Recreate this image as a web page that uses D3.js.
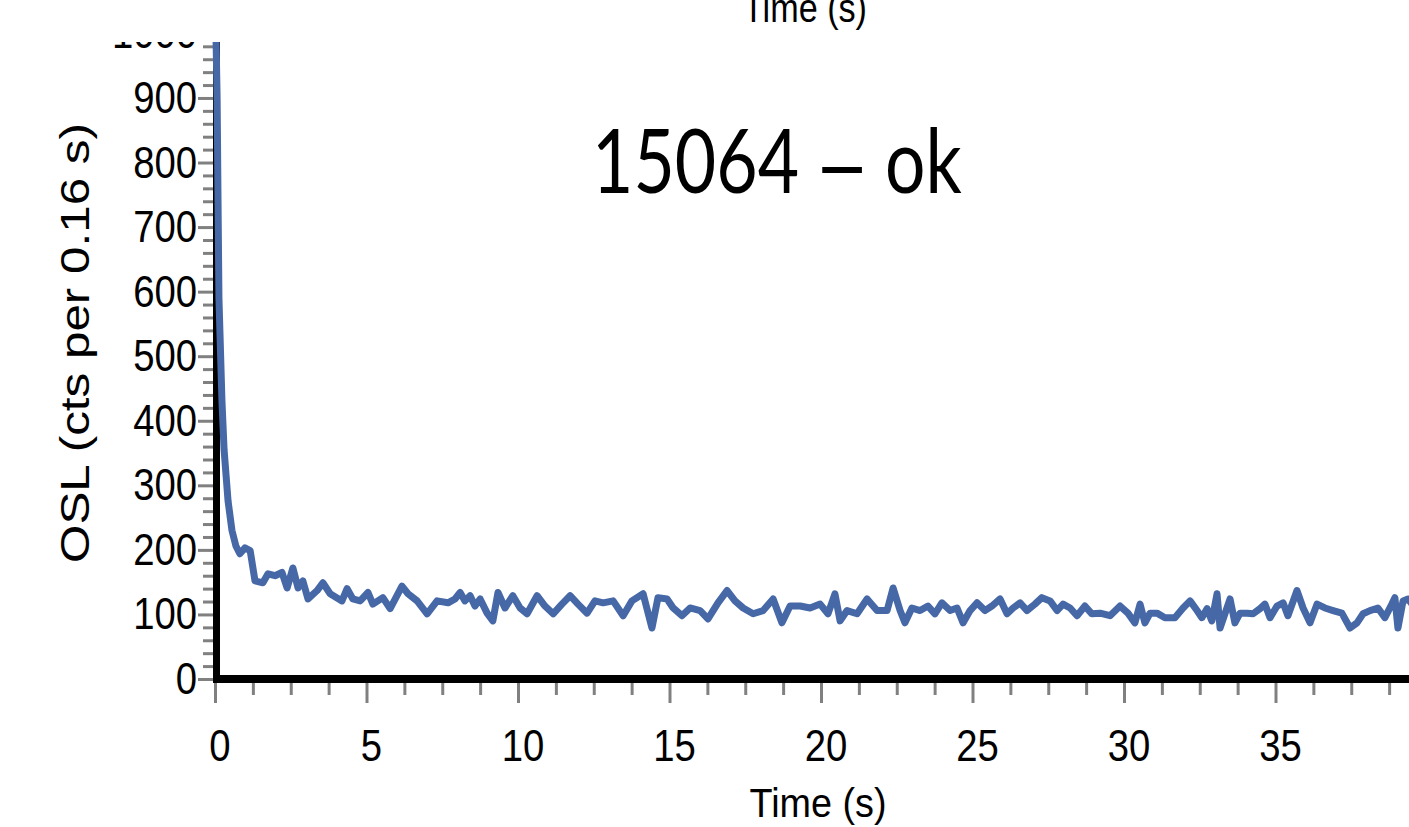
<!DOCTYPE html>
<html><head><meta charset="utf-8">
<script src="https://cdn.jsdelivr.net/npm/d3@7"></script>
<style>body{margin:0;background:#fff;overflow:hidden}svg{display:block}</style>
</head><body><svg id="c" width="1409" height="827"></svg>
<script>
// ---- data ----
const times = [0,0.07,0.10,0.13,0.23,0.30,0.43,0.56,0.69,0.82,0.99,1.16,1.32,1.58,1.75,1.98,2.21,2.38,2.57,2.74,2.90,3.07,3.37,3.56,3.80,4.19,4.36,4.55,4.79,5.05,5.21,5.54,5.78,6.17,6.37,6.67,7.00,7.33,7.69,
7.92,8.09,8.25,8.42,8.58,8.75,8.98,9.17,9.34,9.57,9.83,10.07,10.30,10.63,10.89,11.16,11.45,11.72,11.98,12.28,12.54,12.81,13.14,13.47,13.76,14.13,14.42,14.62,14.92,15.12,15.41,15.68,16.01,16.27,16.60,16.90,17.16,17.43,17.76,18.09,18.42,18.71,18.98,19.31,19.64,19.97,20.23,20.46,20.63,20.86,21.19,21.52,21.85,22.18,22.38,22.61,
22.77,23.00,23.27,23.53,23.76,23.99,24.26,24.49,24.69,24.92,25.15,25.41,25.64,25.91,26.14,26.34,26.57,26.80,27.06,27.29,27.56,27.79,27.99,28.22,28.45,28.71,28.94,
29.21,29.54,29.87,30.13,30.36,30.53,30.69,30.86,31.09,31.35,31.68,31.95,32.18,32.41,32.57,32.74,32.90,33.07,33.17,33.33,33.50,33.66,33.83,34.06,34.26,34.49,34.65,34.82,35.05,35.25,35.41,35.71,35.91,36.14,36.37,36.63,36.90,37.19,37.46,37.69,37.89,38.12,38.38,38.61,38.84,38.94,39.04,39.21,39.37,39.60];
const counts = [1080,900,740,590,430,355,276,230,206,194,203,199,152,149,163,160,165,141,172,141,152,124,137,149,132,121,140,124,121,134,116,126,109,144,132,121,101,121,118,
124,134,121,129,113,124,102,90,134,110,129,110,101,129,113,101,116,129,116,102,121,118,121,98,121,132,79,126,124,110,98,110,106,93,118,137,121,110,101,106,124,87,113,113,110,116,101,132,90,106,101,124,106,106,141,106,
87,110,106,113,101,118,106,110,87,106,118,106,113,124,101,110,118,106,116,126,121,106,116,110,98,113,101,
102,98,113,102,87,116,87,102,102,95,95,110,121,106,95,109,90,132,79,101,124,87,102,102,101,109,116,95,113,118,98,137,110,87,116,110,106,102,79,87,101,106,110,95,116,126,79,121,124,110];
const xMajor = [0,5,10,15,20,25,30,35,40];
const xLabels = [0,5,10,15,20,25,30,35];
const xMinor = [1.25,2.5,3.75,6.25,7.5,8.75,11.25,12.5,13.75,16.25,17.5,18.75,21.25,22.5,23.75,26.25,27.5,28.75,31.25,32.5,33.75,36.25,37.5,38.75];
const yMajor = [0,100,200,300,400,500,600,700,800,900,1000];
const yMinor = d3.range(20,1000,20).filter(v => v % 100 !== 0);
const titleParts = ["15064 ", "–", " ok"];
const xLabelText = "Time (s)";
const yLabelText = "OSL (cts per 0.16 s)";

// ---- drawing ----
const svg = d3.select('#c');
const x = d3.scaleLinear().domain([0,40]).range([215,1427]);
const y = d3.scaleLinear().domain([0,1000]).range([679,33.4]);
const font = 'Liberation Sans, Arial, sans-serif';

svg.append('defs').append('clipPath').attr('id','clip')
  .append('rect').attr('x',0).attr('y',42).attr('width',1409).attr('height',785);

// fragment of the chart above (its x title, cut by the top edge)
svg.append('text').attr('x',805).attr('y',22).attr('text-anchor','middle')
  .attr('font-family',font).attr('font-size',40)
  .attr('textLength',124).attr('lengthAdjust','spacingAndGlyphs').text(xLabelText);

const g = svg.append('g').attr('clip-path','url(#clip)');

function styleAxis(sel){
  sel.select('.domain').remove();
  sel.selectAll('.tick line').attr('stroke','#808080').attr('stroke-width',3);
  sel.selectAll('.tick text').remove();
}
g.append('g').attr('transform','translate(0,683)')
  .call(d3.axisBottom(x).tickValues(xMinor).tickSize(12).tickFormat('')).call(styleAxis);
g.append('g').attr('transform','translate(0,683)')
  .call(d3.axisBottom(x).tickValues(xMajor).tickSize(20).tickFormat('')).call(styleAxis);
g.append('g').attr('transform','translate(213,0)')
  .call(d3.axisLeft(y).tickValues(yMinor).tickSize(10).tickFormat('')).call(styleAxis);
g.append('g').attr('transform','translate(213,0)')
  .call(d3.axisLeft(y).tickValues(yMajor).tickSize(15).tickFormat('')).call(styleAxis);

// axis bars
g.append('line').attr('x1',216.5).attr('x2',216.5).attr('y1',0).attr('y2',683)
  .attr('stroke','#000').attr('stroke-width',7);
g.append('line').attr('x1',213).attr('x2',1409).attr('y1',679).attr('y2',679)
  .attr('stroke','#000').attr('stroke-width',8);

// tick labels
g.selectAll('.ylab').data(yMajor).join('text').attr('class','ylab')
  .attr('transform', d => `translate(197,${y(d)+15}) scale(0.87,1)`)
  .attr('text-anchor','end').attr('font-family',font).attr('font-size',44).text(d => d);
g.selectAll('.xlab').data(xLabels).join('text').attr('class','xlab')
  .attr('transform', d => `translate(${x(d)+5},761) scale(0.87,1)`)
  .attr('text-anchor','middle').attr('font-family',font).attr('font-size',44).text(d => d);

// axis titles
g.append('text').attr('x',818).attr('y',817).attr('text-anchor','middle')
  .attr('font-family',font).attr('font-size',40)
  .attr('textLength',137).attr('lengthAdjust','spacingAndGlyphs').text(xLabelText);
g.append('text').attr('transform','translate(89,343) rotate(-90)').attr('text-anchor','middle')
  .attr('font-family',font).attr('font-size',40)
  .attr('textLength',440).attr('lengthAdjust','spacingAndGlyphs').text(yLabelText);

// data line
const pts = times.map((t,i) => [t, counts[i]]);
g.append('path').datum(pts)
  .attr('d', d3.line().x(d => x(d[0])).y(d => y(d[1])))
  .attr('fill','none').attr('stroke','#4668a6').attr('stroke-width',7)
  .attr('stroke-linejoin','round').attr('stroke-linecap','round');

// big annotation, horizontally condensed to the reference width
const t = g.append('text').attr('x',0).attr('y',0)
  .attr('font-family','Lato, sans-serif').attr('font-size',90)
  .attr('transform','translate(592,193)');
t.selectAll('tspan').data(titleParts).join('tspan')
  .attr('font-family', (d,i) => i === 1 ? font : null)
  .attr('dx', (d,i) => i === 0 ? 0 : 6)
  .text(d => d);
const bb = t.node().getBBox();
t.attr('transform', `translate(${592 - bb.x*370/bb.width},193) scale(${370/bb.width},1)`);
</script></body></html>
